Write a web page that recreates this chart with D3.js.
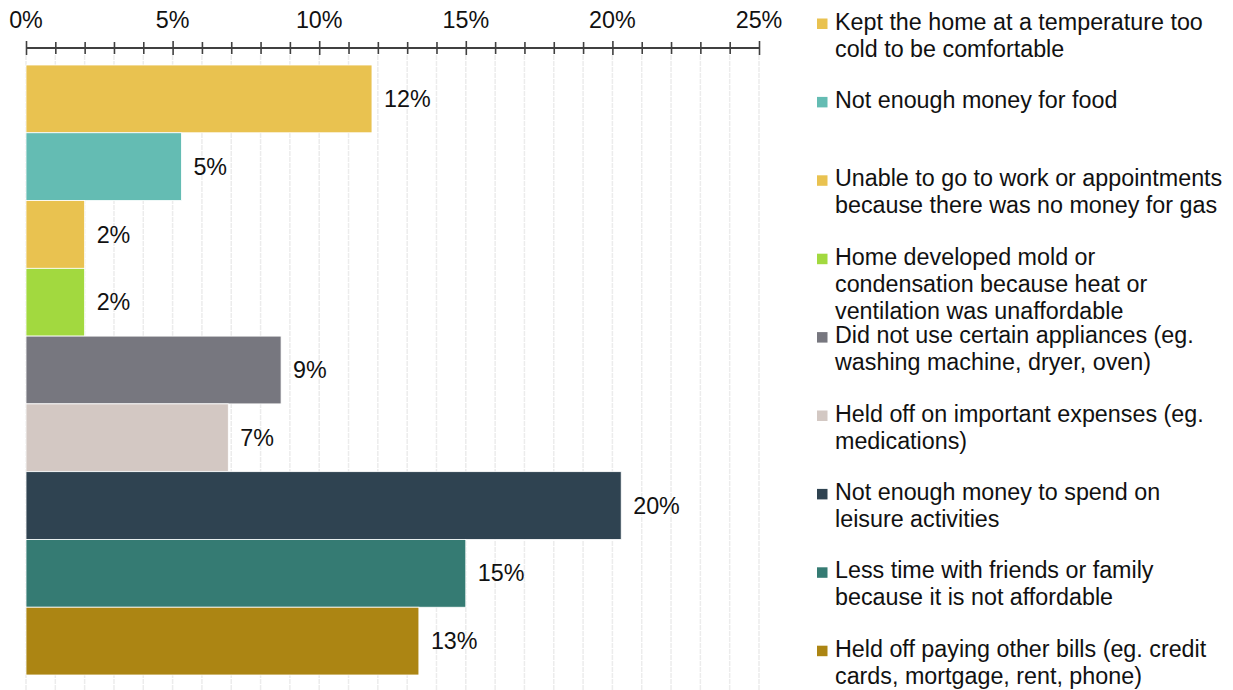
<!DOCTYPE html>
<html>
<head>
<meta charset="utf-8">
<script src="https://cdn.jsdelivr.net/npm/d3@7"></script>
<style>
  body { margin: 0; background: #fff; }
  svg text { font-family: "Liberation Sans", Arial, sans-serif; fill: #111; }
</style>
</head>
<body>
<svg></svg>
<script>
const categories = [
  "Kept the home at a temperature too cold to be comfortable",
  "Not enough money for food",
  "Unable to go to work or appointments because there was no money for gas",
  "Home developed mold or condensation because heat or ventilation was unaffordable",
  "Did not use certain appliances (eg. washing machine, dryer, oven)",
  "Held off on important expenses (eg. medications)",
  "Not enough money to spend on leisure activities",
  "Less time with friends or family because it is not affordable",
  "Held off paying other bills (eg. credit cards, mortgage, rent, phone)",
];
const values = [11.8, 5.3, 2.0, 2.0, 8.7, 6.9, 20.3, 15.0, 13.4];
const valueLabels = ["12%", "5%", "2%", "2%", "9%", "7%", "20%", "15%", "13%"];
const legendLines = [
  ["Kept the home at a temperature too", "cold to be comfortable"],
  ["Not enough money for food"],
  ["Unable to go to work or appointments", "because there was no money for gas"],
  ["Home developed mold or", "condensation because heat or", "ventilation was unaffordable"],
  ["Did not use certain appliances (eg.", "washing machine, dryer, oven)"],
  ["Held off on important expenses (eg.", "medications)"],
  ["Not enough money to spend on", "leisure activities"],
  ["Less time with friends or family", "because it is not affordable"],
  ["Held off paying other bills (eg. credit", "cards, mortgage, rent, phone)"],
];
const colors = ["#E9C250", "#64BCB3", "#E9C250", "#A2D93F", "#77777F", "#D3C8C3", "#2F4351", "#357B73", "#AC8513"];
const majorTicks = [0, 5, 10, 15, 20, 25];
const minorTicks = d3.range(0, 26);

const width = 1233;
const height = 690;
const fontSize = 23.3;
const svg = d3.select("svg").attr("width", width).attr("height", height);

const x = d3.scaleLinear().domain([0, 25]).range([26, 759]);
const y = d3.scaleBand().domain(categories).range([65, 675]).padding(0);

// gridlines
svg.append("g")
  .selectAll("line")
  .data(minorTicks)
  .join("line")
  .attr("x1", (d) => x(d))
  .attr("x2", (d) => x(d))
  .attr("y1", 55)
  .attr("y2", height)
  .attr("stroke", "#ececec")
  .attr("stroke-width", 1.5)
  .attr("stroke-dasharray", "5,1");

// bars
svg.append("g")
  .selectAll("rect")
  .data(categories)
  .join("rect")
  .attr("x", x(0))
  .attr("y", (d) => y(d))
  .attr("width", (d, i) => x(values[i]) - x(0))
  .attr("height", y.bandwidth())
  .attr("fill", (d, i) => colors[i])
  .attr("stroke", "#fff")
  .attr("stroke-width", 0.8);

// value labels
svg.append("g")
  .selectAll("text")
  .data(categories)
  .join("text")
  .attr("x", (d, i) => x(values[i]) + 12)
  .attr("y", (d) => y(d) + y.bandwidth() / 2)
  .attr("dy", "0.35em")
  .attr("font-size", fontSize)
  .text((d, i) => valueLabels[i]);

// top axis
const axisY = 48;
const axis = d3.axisTop(x).tickValues(minorTicks).tickSize(12).tickFormat("");
const axisG = svg.append("g").attr("transform", `translate(0, ${axisY})`).call(axis);
axisG.select(".domain").attr("stroke", "#404040").attr("stroke-width", 2).attr("d", `M${x(0)},0H${x(25)}`);
axisG.selectAll(".tick line")
  .attr("stroke", "#404040")
  .attr("stroke-width", 1.6)
  .attr("y1", (d) => (majorTicks.includes(d) ? 7 : 6))
  .attr("y2", (d) => (majorTicks.includes(d) ? -7 : -6));

svg.append("g")
  .selectAll("text")
  .data(majorTicks)
  .join("text")
  .attr("x", (d) => x(d))
  .attr("y", 28)
  .attr("text-anchor", "middle")
  .attr("font-size", fontSize)
  .text((d) => d + "%");

// legend
const legend = svg.append("g")
  .selectAll("g")
  .data(legendLines)
  .join("g")
  .attr("transform", (d, i) => `translate(0, ${29.5 + i * 78.4})`);

legend.append("rect")
  .attr("x", 817)
  .attr("y", -11)
  .attr("width", 10.5)
  .attr("height", 10.5)
  .attr("fill", (d, i) => colors[i]);

legend.append("text")
  .attr("x", 835)
  .attr("font-size", fontSize)
  .selectAll("tspan")
  .data((d) => d)
  .join("tspan")
  .attr("x", 835)
  .attr("y", (d, j) => j * 27)
  .text((d) => d);
</script>
</body>
</html>
